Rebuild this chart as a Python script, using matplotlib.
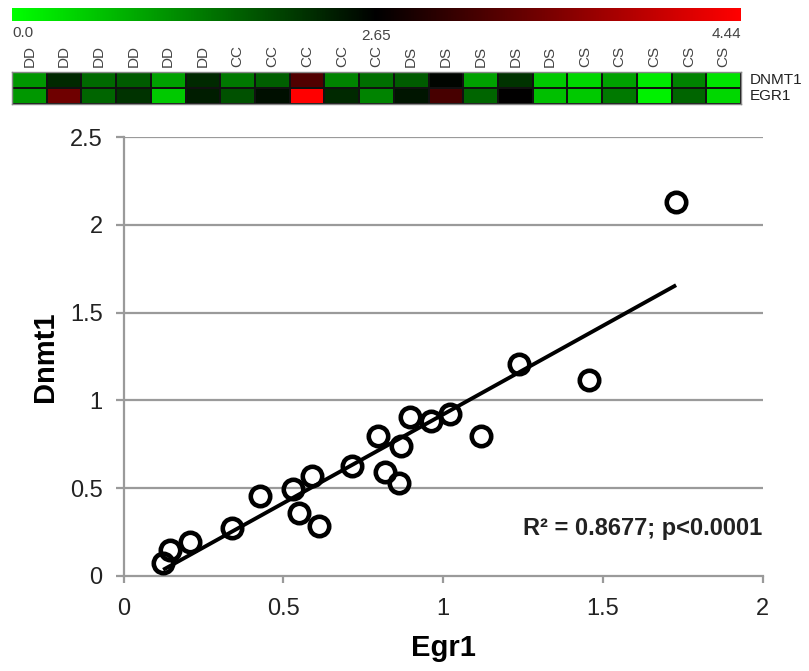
import numpy as np
import matplotlib
matplotlib.use("Agg")
import matplotlib.pyplot as plt
from matplotlib.colors import LinearSegmentedColormap, TwoSlopeNorm

plt.rcParams['font.family'] = ['Liberation Sans', 'DejaVu Sans']

# ---------------- data ----------------
groups = ['DD', 'DD', 'DD', 'DD', 'DD', 'DD',
          'CC', 'CC', 'CC', 'CC', 'CC',
          'DS', 'DS', 'DS', 'DS', 'DS',
          'CS', 'CS', 'CS', 'CS', 'CS']
heat_rows = ['DNMT1', 'EGR1']
dnmt1_heat = [1.09, 2.23, 1.56, 1.71, 0.99, 2.23, 1.40, 1.66, 3.21, 1.30, 1.51,
              1.71, 2.60, 0.99, 2.13, 0.57, 0.42, 0.99, 0.21, 1.30, 0.31]
egr1_heat = [1.09, 3.42, 1.61, 2.13, 0.57, 2.34, 1.82, 2.49, 4.44, 2.23, 1.30,
             2.44, 3.14, 1.61, 2.65, 0.68, 0.57, 1.40, 0.16, 1.61, 0.42]
scale_min, scale_mid, scale_max = 0.0, 2.65, 4.44
scale_labels = ['0.0', '2.65', '4.44']

egr1 = [0.124, 0.145, 0.208, 0.340, 0.427, 0.531, 0.548, 0.590, 0.611, 0.715,
        0.796, 0.819, 0.862, 0.869, 0.895, 0.963, 1.023, 1.118, 1.239, 1.455, 1.729]
dnmt1 = [0.072, 0.148, 0.195, 0.271, 0.456, 0.498, 0.356, 0.568, 0.286, 0.625,
         0.797, 0.593, 0.532, 0.739, 0.905, 0.882, 0.920, 0.798, 1.209, 1.114, 2.127]
fit_slope = 1.01
fit_intercept = -0.09
annotation = 'R² = 0.8677; p<0.0001'
x_ticks = [0, 0.5, 1, 1.5, 2]
x_ticklabels = ['0', '0.5', '1', '1.5', '2']
y_ticks = [0, 0.5, 1, 1.5, 2, 2.5]
y_ticklabels = ['0', '0.5', '1', '1.5', '2', '2.5']

# ---------------- figure ----------------
W, H = 809, 671
fig = plt.figure(figsize=(W / 100, H / 100), dpi=100)

def px_axes(x0, y0, x1, y1):
    return fig.add_axes([x0 / W, 1 - y1 / H, (x1 - x0) / W, (y1 - y0) / H])

cmap = LinearSegmentedColormap.from_list('gkr', [(0, 1, 0), (0, 0, 0), (1, 0, 0)])
norm = TwoSlopeNorm(vmin=scale_min, vcenter=scale_mid, vmax=scale_max)

# colour scale bar
cax = px_axes(12, 8, 741, 21)
grad = np.linspace(0, 1, 512)[None, :]
cax.imshow(grad, aspect='auto', cmap=cmap, extent=[0, 1, 0, 1])
cax.set_axis_off()
for frac, lab, ha, yy in zip([0, 0.5, 1], scale_labels, ['left', 'center', 'right'],
                             [33, 36, 34]):
    fig.text((12 + frac * 729) / W, 1 - yy / H, lab, ha=ha, va='center',
             fontsize=11, color='#444444')

# heatmap
hax = px_axes(12, 72, 741, 104)
mat = np.array([dnmt1_heat, egr1_heat])
hax.pcolormesh(mat, cmap=cmap, norm=norm, edgecolors='#111111', linewidth=1.2)
hax.set_xlim(0, len(groups))
hax.set_ylim(len(heat_rows), 0)
hax.set_xticks([])
hax.set_yticks([])
for s in hax.spines.values():
    s.set_color('#888888')
    s.set_linewidth(1)
for i, g in enumerate(groups):
    fig.text((12 + (i + 0.5) * 729 / len(groups)) / W, 1 - 67 / H, g,
             rotation=90, ha='center', va='bottom', fontsize=11, color='#444444')
for j, r in enumerate(heat_rows):
    hax.text(1.012, 1 - (j + 0.5) / len(heat_rows), r, transform=hax.transAxes,
             ha='left', va='center', fontsize=11, color='#222222')

# scatter
ax = px_axes(123.5, 137, 762.7, 576)
gray = '#9a9a9a'
ax.set_xlim(0, 2)
ax.set_ylim(0, 2.5)
for yt in y_ticks[1:]:
    ax.axhline(yt, color=gray, lw=1.6, zorder=0)
xs = np.array([min(egr1), max(egr1)])
ax.plot(xs, fit_slope * xs + fit_intercept, color='black', lw=2.8, zorder=2,
        solid_capstyle='butt')
ax.plot(egr1, dnmt1, 'o', ms=14, mfc='none', mec='black', mew=3.3, zorder=3,
        clip_on=False)
for side in ['top', 'right']:
    ax.spines[side].set_visible(False)
for side in ['left', 'bottom']:
    ax.spines[side].set_color(gray)
    ax.spines[side].set_linewidth(1.6)
ax.set_xticks(x_ticks)
ax.set_xticklabels(x_ticklabels)
ax.set_yticks(y_ticks)
ax.set_yticklabels(y_ticklabels)
ax.tick_params(axis='y', length=6, width=1.6, color=gray, pad=9,
               labelsize=17, labelcolor='#222222')
ax.tick_params(axis='x', length=5, width=1.6, color=gray, pad=11,
               labelsize=17, labelcolor='#222222')
ax.set_xlabel('Egr1', fontsize=21, fontweight='bold', labelpad=10)
ax.set_ylabel('Dnmt1', fontsize=21, fontweight='bold', labelpad=8)
ax.text(2.0, 0.27, annotation, ha='right', va='center', fontsize=17,
        fontweight='bold', color='#222222')

fig.savefig('out.png', dpi=100)
